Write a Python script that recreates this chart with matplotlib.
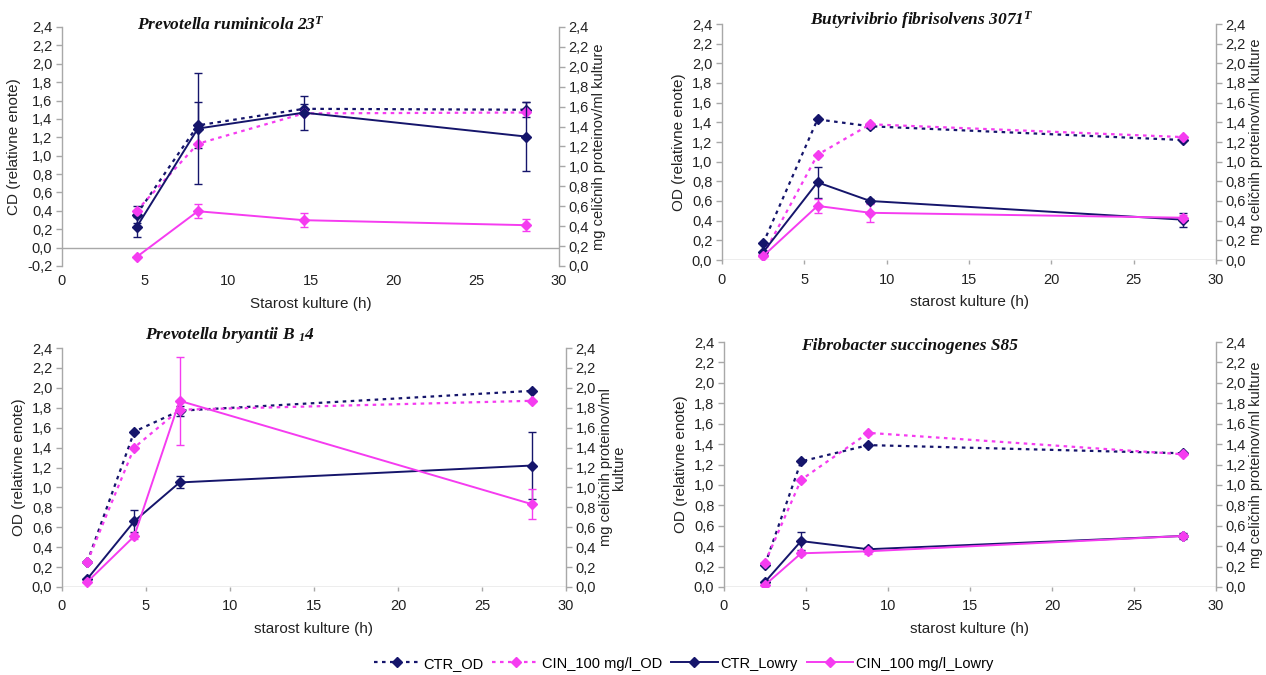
import matplotlib
matplotlib.use('Agg')
import matplotlib.pyplot as plt
from matplotlib.lines import Line2D
from matplotlib.ticker import FuncFormatter

plt.rcParams['font.family'] = ['Liberation Sans Narrow', 'Liberation Sans', 'DejaVu Sans']
plt.rcParams['mathtext.fontset'] = 'custom'
plt.rcParams['mathtext.rm'] = 'Liberation Serif:bold:italic'
plt.rcParams['mathtext.it'] = 'Liberation Serif:bold:italic'
plt.rcParams['mathtext.bf'] = 'Liberation Serif:bold:italic'

# ---------------- data ----------------
titles = ['Prevotella ruminicola 23$^{T}$',
          'Butyrivibrio fibrisolvens 3071$^{T}$',
          'Prevotella bryantii B $_{1}$4',
          'Fibrobacter succinogenes S85']
left_labels = ['CD (relativne enote)', 'OD (relativne enote)',
               'OD (relativne enote)', 'OD (relativne enote)']
right_labels = ['mg celičnih proteinov/ml kulture', 'mg celičnih proteinov/ml kulture',
                'mg celičnih proteinov/ml\nkulture', 'mg celičnih proteinov/ml kulture']
x_labels = ['Starost kulture (h)', 'starost kulture (h)',
            'starost kulture (h)', 'starost kulture (h)']
series_names = ['CTR_OD', 'CIN_100 mg/l_OD', 'CTR_Lowry', 'CIN_100 mg/l_Lowry']

# Panel 1: Prevotella ruminicola 23T
p1_x = [4.5, 8.2, 14.6, 28.0]
p1_ctr_od = [0.36, 1.33, 1.51, 1.50]
p1_ctr_od_err = [0.09, 0.25, 0.05, 0.08]
p1_cin_od = [0.40, 1.13, 1.46, 1.47]
p1_cin_od_err = [0.0, 0.0, 0.0, 0.0]
p1_ctr_lowry = [0.39, 1.38, 1.54, 1.30]
p1_ctr_lowry_err = [0.10, 0.56, 0.17, 0.35]
p1_cin_lowry = [0.09, 0.55, 0.46, 0.41]
p1_cin_lowry_err = [0.0, 0.07, 0.07, 0.06]

# Panel 2: Butyrivibrio fibrisolvens 3071T
p2_x = [2.5, 5.8, 9.0, 28.0]
p2_ctr_od = [0.17, 1.43, 1.36, 1.22]
p2_ctr_od_err = [0.0, 0.0, 0.02, 0.0]
p2_cin_od = [0.05, 1.07, 1.38, 1.25]
p2_cin_od_err = [0.0, 0.0, 0.0, 0.0]
p2_ctr_lowry = [0.08, 0.79, 0.60, 0.41]
p2_ctr_lowry_err = [0.0, 0.16, 0.02, 0.07]
p2_cin_lowry = [0.04, 0.55, 0.48, 0.43]
p2_cin_lowry_err = [0.0, 0.07, 0.09, 0.03]

# Panel 3: Prevotella bryantii B14
p3_x = [1.5, 4.3, 7.0, 28.0]
p3_ctr_od = [0.25, 1.56, 1.77, 1.97]
p3_ctr_od_err = [0.0, 0.0, 0.05, 0.0]
p3_cin_od = [0.25, 1.40, 1.78, 1.87]
p3_cin_od_err = [0.0, 0.0, 0.0, 0.0]
p3_ctr_lowry = [0.08, 0.66, 1.05, 1.22]
p3_ctr_lowry_err = [0.0, 0.11, 0.06, 0.34]
p3_cin_lowry = [0.05, 0.51, 1.87, 0.83]
p3_cin_lowry_err = [0.0, 0.03, 0.44, 0.15]

# Panel 4: Fibrobacter succinogenes S85
p4_x = [2.5, 4.7, 8.8, 28.0]
p4_ctr_od = [0.22, 1.23, 1.39, 1.31]
p4_ctr_od_err = [0.0, 0.0, 0.0, 0.0]
p4_cin_od = [0.24, 1.05, 1.51, 1.30]
p4_cin_od_err = [0.0, 0.0, 0.0, 0.0]
p4_ctr_lowry = [0.05, 0.45, 0.37, 0.50]
p4_ctr_lowry_err = [0.0, 0.09, 0.02, 0.03]
p4_cin_lowry = [0.02, 0.33, 0.35, 0.50]
p4_cin_lowry_err = [0.0, 0.02, 0.03, 0.02]

left_ylims = [(-0.2, 2.4), (0.0, 2.4), (0.0, 2.4), (0.0, 2.4)]
right_ylims = [(0.0, 2.4), (0.0, 2.4), (0.0, 2.4), (0.0, 2.4)]

panels = [
    (p1_x, p1_ctr_od, p1_ctr_od_err, p1_cin_od, p1_cin_od_err,
     p1_ctr_lowry, p1_ctr_lowry_err, p1_cin_lowry, p1_cin_lowry_err),
    (p2_x, p2_ctr_od, p2_ctr_od_err, p2_cin_od, p2_cin_od_err,
     p2_ctr_lowry, p2_ctr_lowry_err, p2_cin_lowry, p2_cin_lowry_err),
    (p3_x, p3_ctr_od, p3_ctr_od_err, p3_cin_od, p3_cin_od_err,
     p3_ctr_lowry, p3_ctr_lowry_err, p3_cin_lowry, p3_cin_lowry_err),
    (p4_x, p4_ctr_od, p4_ctr_od_err, p4_cin_od, p4_cin_od_err,
     p4_ctr_lowry, p4_ctr_lowry_err, p4_cin_lowry, p4_cin_lowry_err),
]

# ---------------- style ----------------
NAVY = '#15156b'
MAG = '#f53cf0'
GRAY = '#a8a8a8'
DOT = (0, (1.6, 2.0))

W, H = 1266, 675
# (left, top, right, bottom) pixel boxes for each axes
boxes = [(62, 27, 559, 266), (722, 24, 1216, 260),
         (62, 348, 566, 587), (724, 342, 1216, 587)]
title_pos = [(0.34, 1.01), (0.405, 1.015), (0.333, 1.054), (0.377, 0.985)]
ticks = [v / 10 for v in range(-2, 25, 2)]
fmt = FuncFormatter(lambda v, p: f"{v:.1f}".replace('.', ','))

fig = plt.figure(figsize=(W / 100, H / 100), dpi=100)

for i, (box, data) in enumerate(zip(boxes, panels)):
    l, t, r, b = box
    ax = fig.add_axes([l / W, 1 - b / H, (r - l) / W, (b - t) / H])
    ax2 = ax.twinx()
    (x, ctr_od, ctr_od_e, cin_od, cin_od_e,
     ctr_lw, ctr_lw_e, cin_lw, cin_lw_e) = data

    ax.errorbar(x, ctr_od, yerr=ctr_od_e, color=NAVY, ls=DOT, lw=1.6,
                marker='D', ms=5, capsize=3, elinewidth=1, zorder=3)
    ax.errorbar(x, cin_od, yerr=cin_od_e, color=MAG, ls=DOT, lw=1.6,
                marker='D', ms=5, capsize=3, elinewidth=1, zorder=3)
    ax2.errorbar(x, ctr_lw, yerr=ctr_lw_e, color=NAVY, ls='-', lw=1.4,
                 marker='D', ms=5, capsize=3, elinewidth=1, zorder=3)
    ax2.errorbar(x, cin_lw, yerr=cin_lw_e, color=MAG, ls='-', lw=1.4,
                 marker='D', ms=5, capsize=3, elinewidth=1, zorder=3)

    ax.set_xlim(0, 30)
    ax.set_xticks(range(0, 31, 5))
    ax.set_ylim(*left_ylims[i])
    ax.set_yticks([v for v in ticks if left_ylims[i][0] - 1e-9 <= v <= left_ylims[i][1] + 1e-9])
    ax.yaxis.set_major_formatter(fmt)
    ax2.set_ylim(*right_ylims[i])
    ax2.set_yticks([v for v in ticks if right_ylims[i][0] - 1e-9 <= v <= right_ylims[i][1] + 1e-9])
    ax2.yaxis.set_major_formatter(fmt)

    for a in (ax, ax2):
        for s in a.spines.values():
            s.set_color(GRAY)
            s.set_linewidth(1.0)
        a.spines['top'].set_visible(False)
        a.spines['bottom'].set_visible(False)
        a.tick_params(axis='y', colors=GRAY, labelcolor='#222222',
                      labelsize=10.5, length=4, width=1, direction='out', pad=3)
    ax.spines['right'].set_visible(False)
    ax2.spines['left'].set_visible(False)
    ax.axhline(0, color=GRAY, lw=1.0, zorder=1)
    ax.tick_params(axis='x', colors=GRAY, labelcolor='#222222', labelsize=10.5,
                   length=0 if i == 0 else 3, width=1, direction='out', pad=6)

    ax.set_xlabel(x_labels[i], fontsize=11, color='#222222', labelpad=6)
    ax.set_ylabel(left_labels[i], fontsize=11, color='#222222', labelpad=4)
    ax2.set_ylabel(right_labels[i], fontsize=10.5, color='#222222', labelpad=2,
                   rotation=90, linespacing=0.95)
    ax.text(title_pos[i][0], title_pos[i][1], titles[i], transform=ax.transAxes,
            ha='center', va='center', fontsize=12.5, family='Liberation Serif',
            style='italic', weight='bold', color='#111111')

handles = [
    Line2D([], [], color=NAVY, ls=DOT, lw=1.6, marker='D', ms=5),
    Line2D([], [], color=MAG, ls=DOT, lw=1.6, marker='D', ms=5),
    Line2D([], [], color=NAVY, ls='-', lw=1.4, marker='D', ms=5),
    Line2D([], [], color=MAG, ls='-', lw=1.4, marker='D', ms=5),
]
fig.legend(handles, series_names, loc='center', bbox_to_anchor=(0.54, 0.017),
           ncol=4, frameon=False, fontsize=10.5, handlelength=3.2,
           handletextpad=0.2, columnspacing=0.6)

fig.savefig('out.png', dpi=100)
